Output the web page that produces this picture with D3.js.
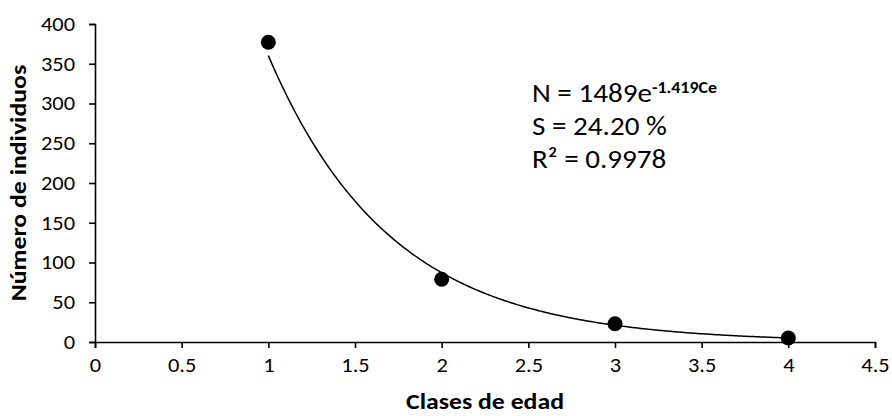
<!DOCTYPE html>
<html>
<head>
<meta charset="utf-8">
<script src="https://cdn.jsdelivr.net/npm/d3@7"></script>
<style>
  html, body { margin: 0; padding: 0; background: #fff; }
  svg text { font-family: Carlito, Calibri, Lato, "Open Sans", sans-serif; fill: #000; }
</style>
</head>
<body>
<svg id="chart" width="892" height="416"></svg>
<script>
// Age classes and observed individuals
const ageClasses = [1, 2, 3, 4];
const individuals = [377, 79, 23, 5];

// Fitted exponential model N = a * e^(b * Ce)
const fitA = 1489;
const fitB = -1.419;

const xTicks = [0, 0.5, 1, 1.5, 2, 2.5, 3, 3.5, 4, 4.5];
const yTicks = [0, 50, 100, 150, 200, 250, 300, 350, 400];

const svg = d3.select("#chart");
const margin = { left: 95, right: 17, top: 24, bottom: 74 };
const W = 892, H = 416;
const WIDEN = 1.12; // horizontal widening of glyphs

const x = d3.scaleLinear().domain([0, 4.5]).range([margin.left, W - margin.right]);
const y = d3.scaleLinear().domain([0, 400]).range([H - margin.bottom, margin.top]);

// Stretch a text element along its baseline
function widen(sel) {
  sel.each(function () {
    const len = this.getComputedTextLength();
    d3.select(this).attr("textLength", len * WIDEN).attr("lengthAdjust", "spacingAndGlyphs");
  });
}

// Axes
const xAxis = svg.append("g")
  .attr("transform", `translate(0,${y(0)})`)
  .call(d3.axisBottom(x).tickValues(xTicks).tickSizeOuter(0).tickSize(6).tickPadding(10)
    .tickFormat(d => d3.format("")(d)));
const yAxis = svg.append("g")
  .attr("transform", `translate(${x(0)},0)`)
  .call(d3.axisLeft(y).tickValues(yTicks).tickSizeOuter(0).tickSize(6).tickPadding(14));

[xAxis, yAxis].forEach(g => {
  g.attr("font-family", null).attr("font-size", null);
  g.select(".domain").attr("stroke", "#000").attr("stroke-width", 1.6);
  g.selectAll(".tick line").attr("stroke", "#000").attr("stroke-width", 1.6);
  g.selectAll(".tick text").style("font-size", "20px").attr("fill", "#000").call(widen);
});

// Fitted curve between the first and last age class
const curveXs = d3.range(0, 301).map(i => 1 + i * 3 / 300);
const line = d3.line().x(d => x(d)).y(d => y(fitA * Math.exp(fitB * d)));
svg.append("path")
  .datum(curveXs)
  .attr("d", line)
  .attr("fill", "none")
  .attr("stroke", "#000")
  .attr("stroke-width", 1.5);

// Observed points
svg.append("g").selectAll("circle")
  .data(ageClasses.map((c, i) => [c, individuals[i]]))
  .join("circle")
  .attr("cx", d => x(d[0]))
  .attr("cy", d => y(d[1]))
  .attr("r", 7.5)
  .attr("fill", "#000");

// Axis titles
svg.append("text")
  .attr("x", (x(0) + x(4.5)) / 2)
  .attr("y", 409)
  .attr("text-anchor", "middle")
  .style("font-size", "23px")
  .attr("font-weight", "bold")
  .text("Clases de edad")
  .call(widen);

svg.append("text")
  .attr("transform", `translate(26,${(y(0) + y(400)) / 2}) rotate(-90)`)
  .attr("text-anchor", "middle")
  .style("font-size", "23px")
  .attr("font-weight", "bold")
  .text("Número de individuos")
  .call(widen);

// Equation annotation
const ann = svg.append("g")
  .attr("transform", `translate(532,0) scale(${WIDEN},1)`)
  .style("font-size", "26px");
const eq = ann.append("text").attr("x", 0).attr("y", 102);
eq.append("tspan").text(`N = ${fitA}e`);
eq.append("tspan").attr("dy", -9).style("font-size", "16px").attr("font-weight", "bold")
  .text(`${fitB.toFixed(3)}Ce`);
ann.append("text").attr("x", 0).attr("y", 135).text("S = 24.20 %");
ann.append("text").attr("x", 0).attr("y", 168).text("R² = 0.9978");
</script>
</body>
</html>
